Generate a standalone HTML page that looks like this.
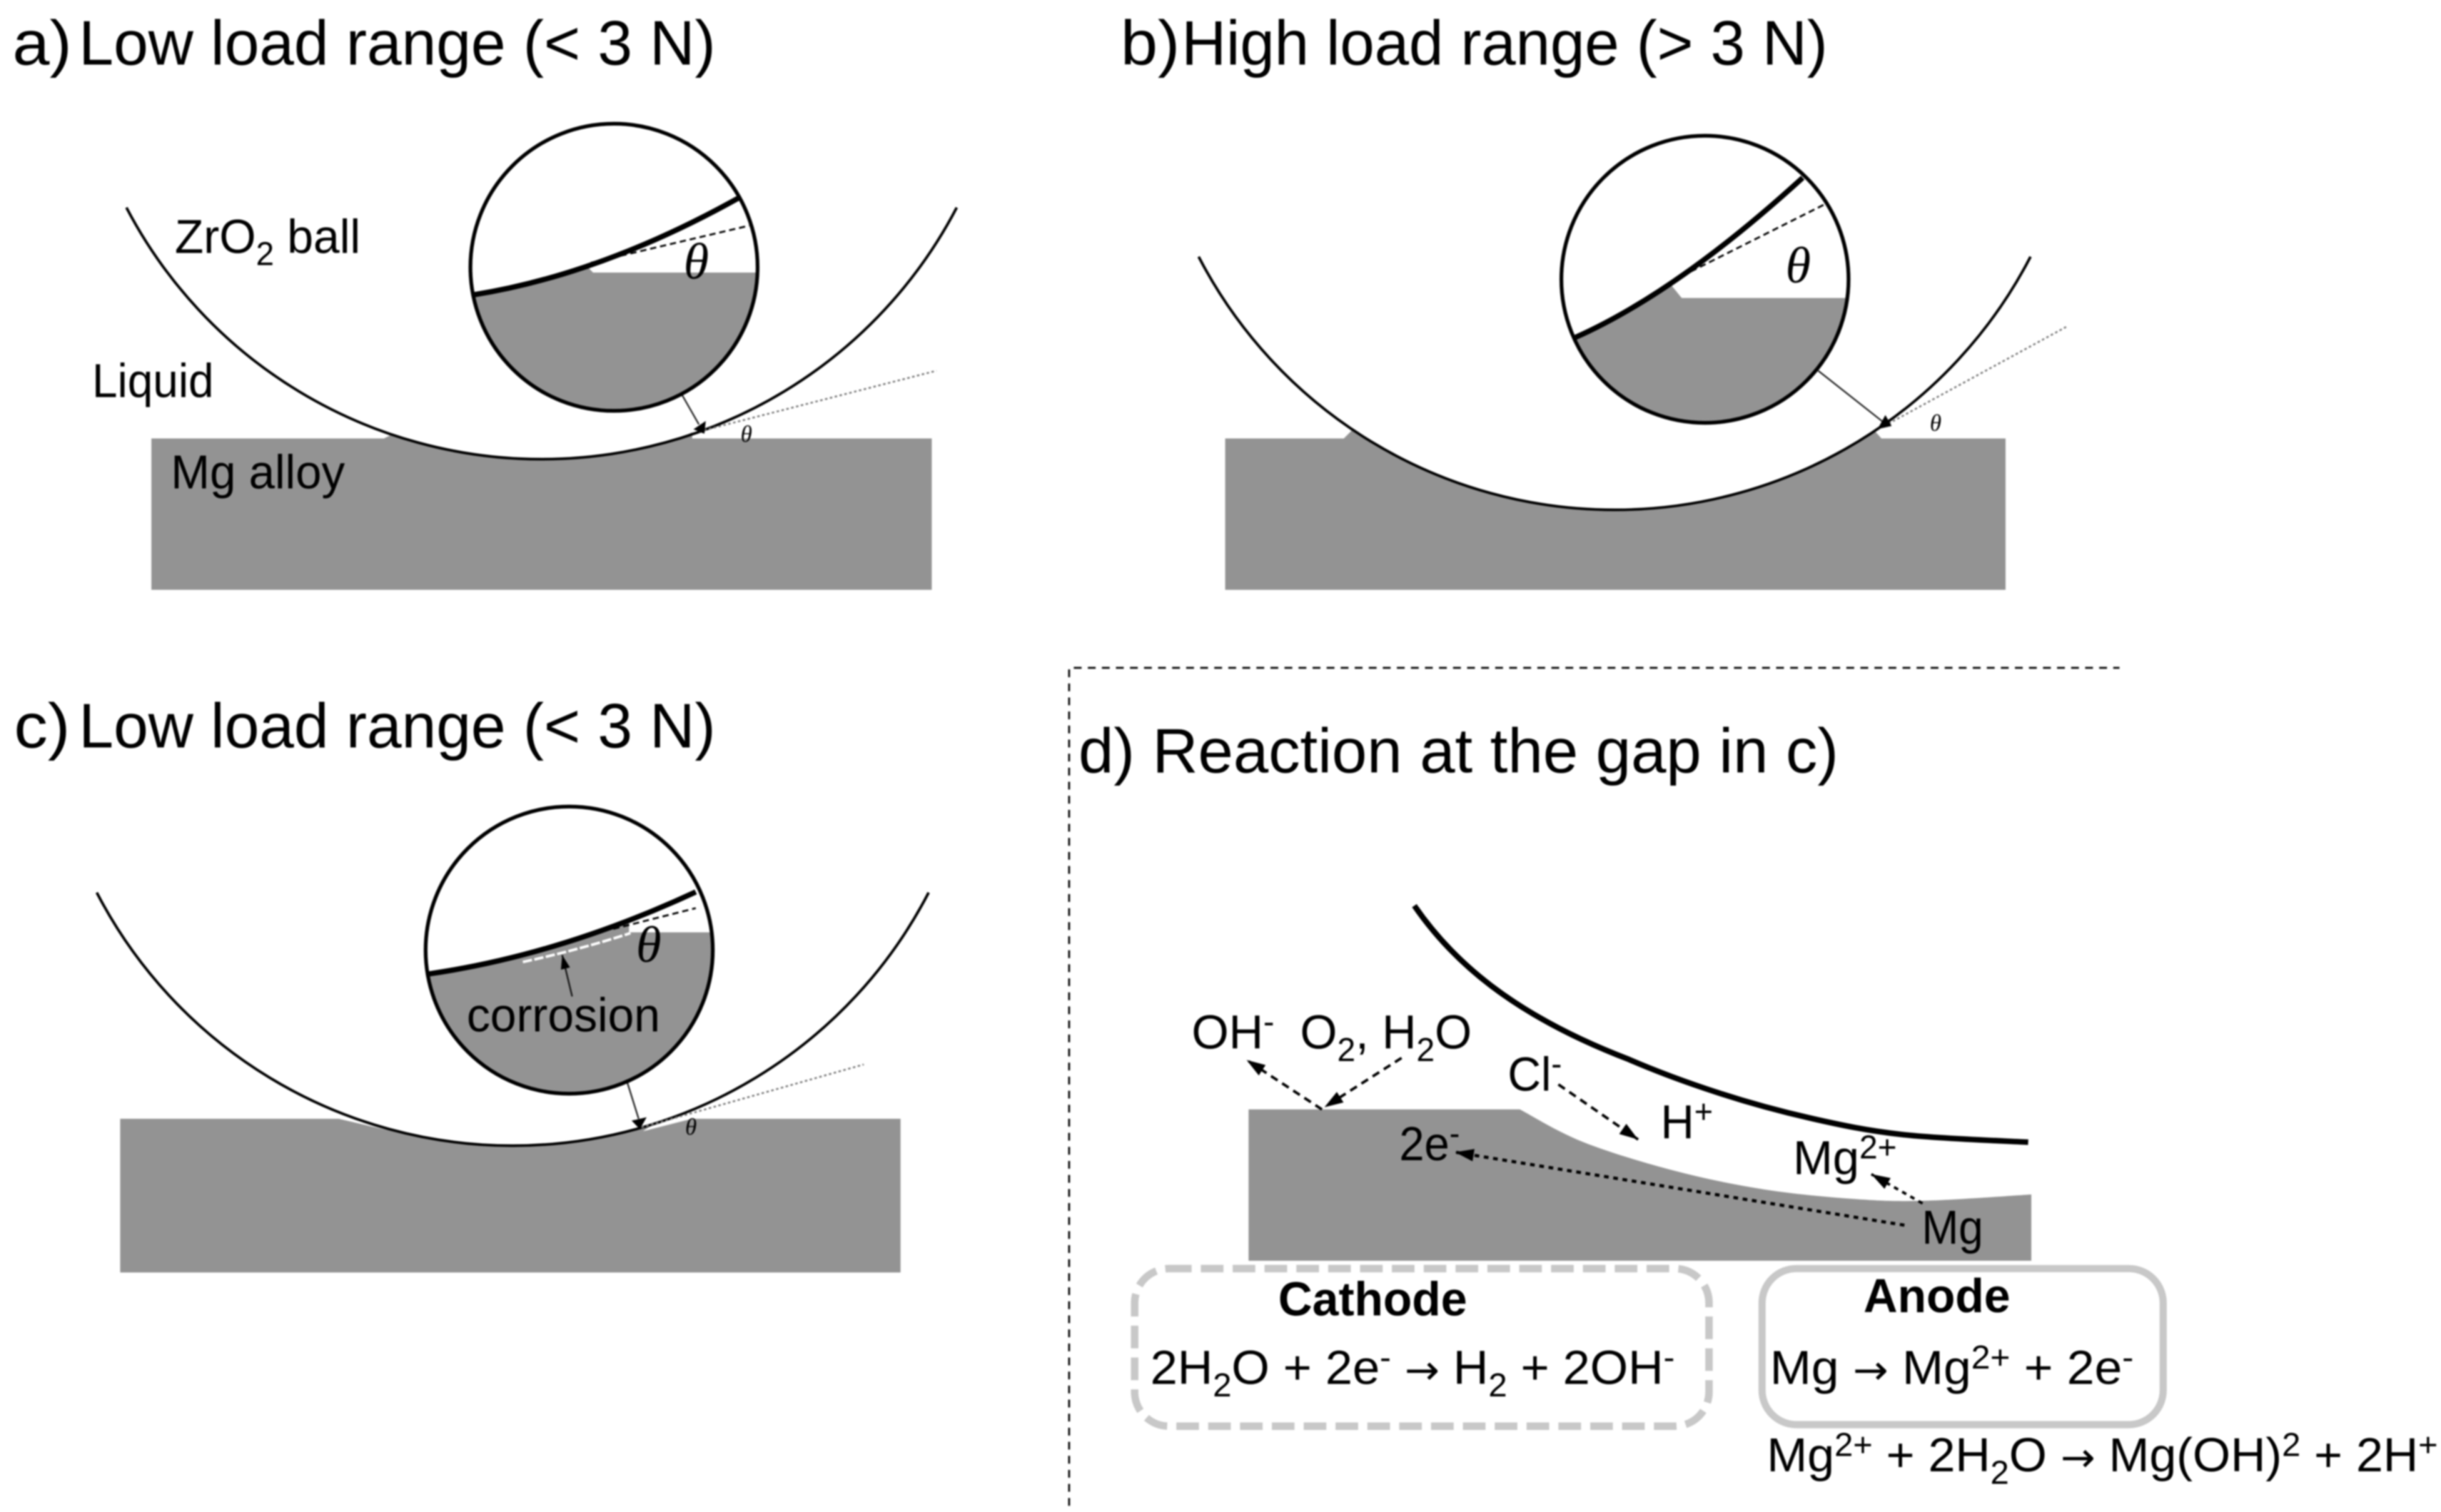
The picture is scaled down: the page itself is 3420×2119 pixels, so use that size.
<!DOCTYPE html>
<html><head><meta charset="utf-8"><style>
html,body{margin:0;padding:0;background:#fff}
svg{display:block;filter:blur(1px)}
text{font-family:"Liberation Sans",sans-serif;fill:#000}
.t{font-size:40.5px}.l{font-size:30.5px}
.s{font-size:21px}
.ar{font-family:"DejaVu Sans",sans-serif;font-size:26px}
.th{font-family:"Liberation Serif",serif;font-style:italic}
</style></head><body>
<svg width="3420" height="2119" viewBox="0 0 1564 969" preserveAspectRatio="none" xmlns="http://www.w3.org/2000/svg">
<defs>
<marker id="a" markerUnits="userSpaceOnUse" markerWidth="14" markerHeight="10" refX="12" refY="4" orient="auto"><path d="M0,0L12,4L0,8Z" fill="#000"/></marker>
<marker id="b" markerUnits="userSpaceOnUse" markerWidth="11" markerHeight="8" refX="9" refY="3" orient="auto"><path d="M0,0L9,3L0,6Z" fill="#000"/></marker>
<clipPath id="ca"><circle cx="393.4" cy="171.3" r="92"/></clipPath>
<clipPath id="cb"><circle cx="1092.4" cy="179" r="92"/></clipPath>
<clipPath id="cc"><circle cx="364.7" cy="608.9" r="92"/></clipPath>
</defs>
<rect width="1564" height="969" fill="#fff"/>

<!-- a -->
<text x="8" y="41.5" class="t" textLength="38" lengthAdjust="spacingAndGlyphs">a)</text>
<text x="50.5" y="41.5" class="t" textLength="408" lengthAdjust="spacingAndGlyphs">Low load range (&lt; 3 N)</text>
<rect x="97" y="281" width="500" height="97" fill="#939393"/>
<path d="M81,133A300,300 0 0 0 613,133" fill="#fff"/>
<path d="M246,281L252,278L258,281ZM436,281L443.5,277L443.5,281Z" fill="#939393"/>
<path d="M81,133A300,300 0 0 0 613,133" fill="none" stroke="#000" stroke-width="1.7"/>
<line x1="448" y1="276.5" x2="600" y2="237.6" stroke="#777" stroke-width="1.1" stroke-dasharray="1.6 1.6"/>
<line x1="436.5" y1="252.2" x2="447.8" y2="272" stroke="#222" stroke-width="1"/>
<path d="M452.2,269.8L451.3,278L444.3,275.1Z" fill="#000"/>
<circle cx="393.4" cy="171.3" r="92" fill="#fff"/>
<g clip-path="url(#ca)">
<path d="M295,190L303,189Q385,176 473,127L495,120V270H295Z" fill="#939393"/>
<path d="M376.5,171L380,174.7H495V100H376.5Z" fill="#fff"/>
<line x1="378.6" y1="168.4" x2="480" y2="144.6" stroke="#000" stroke-width="1.2" stroke-dasharray="4 2.5"/>
<path d="M303,189Q385,176 473,127" fill="none" stroke="#000" stroke-width="3.4"/>
</g>
<circle cx="393.4" cy="171.3" r="92" fill="none" stroke="#000" stroke-width="2.4"/>
<text x="438" y="178.5" class="th" style="font-size:33px">θ</text>
<text x="474.5" y="283" class="th" style="font-size:15px">θ</text>
<text x="112" y="162" class="l" textLength="119" lengthAdjust="spacingAndGlyphs">ZrO<tspan dy="8" class="s">2</tspan><tspan dy="-8"> ball</tspan></text>
<text x="59" y="254.4" class="l" textLength="78" lengthAdjust="spacingAndGlyphs">Liquid</text>
<text x="109.5" y="313" class="l" textLength="111.5" lengthAdjust="spacingAndGlyphs">Mg alloy</text>

<!-- b -->
<text x="718" y="41.5" class="t" textLength="38" lengthAdjust="spacingAndGlyphs">b)</text>
<text x="757" y="41.5" class="t" textLength="414" lengthAdjust="spacingAndGlyphs">High load range (&gt; 3 N)</text>
<path d="M785,378V281H861L866,276H1201L1205.5,281H1285V378Z" fill="#939393"/>
<path d="M768,164.5A300,300 0 0 0 1301,164.5" fill="#fff" stroke="#000" stroke-width="1.7"/>
<line x1="1210" y1="271.5" x2="1324" y2="209.4" stroke="#777" stroke-width="1.1" stroke-dasharray="1.6 1.6"/>
<line x1="1165" y1="237.6" x2="1206" y2="270" stroke="#222" stroke-width="1"/>
<path d="M1203,275L1208,266L1212,273Z" fill="#000"/>
<circle cx="1092.4" cy="179" r="92" fill="#fff"/>
<g clip-path="url(#cb)">
<path d="M995,225L1009.5,216.2Q1075,187 1155,113.9L1190,100V280H995Z" fill="#939393"/>
<path d="M1071,183L1077.5,191H1195V90H1071Z" fill="#fff"/>
<line x1="1071.8" y1="179.8" x2="1169.6" y2="130.7" stroke="#000" stroke-width="1.2" stroke-dasharray="4 2.5"/>
<path d="M1009.5,216.2Q1075,187 1155,113.9" fill="none" stroke="#000" stroke-width="3.4"/>
</g>
<circle cx="1092.4" cy="179" r="92" fill="none" stroke="#000" stroke-width="2.4"/>
<text x="1144" y="181" class="th" style="font-size:33px">θ</text>
<text x="1236.5" y="276" class="th" style="font-size:15px">θ</text>

<!-- c -->
<text x="9" y="479" class="t" textLength="36" lengthAdjust="spacingAndGlyphs">c)</text>
<text x="50.5" y="479" class="t" textLength="408" lengthAdjust="spacingAndGlyphs">Low load range (&lt; 3 N)</text>
<rect x="77" y="717" width="500" height="98.5" fill="#939393"/>
<path d="M62,572A300,300 0 0 0 595,572" fill="#fff"/>
<path d="M412,725L444,716.8L425,716ZM217,717L229,716L258,725L258,726.5Z" fill="#fff"/>
<path d="M62,572A300,300 0 0 0 595,572" fill="none" stroke="#000" stroke-width="1.7"/>
<line x1="411" y1="722.5" x2="553.4" y2="682.2" stroke="#777" stroke-width="1.1" stroke-dasharray="1.6 1.6"/>
<line x1="401.6" y1="692.7" x2="409.2" y2="717" stroke="#222" stroke-width="1"/>
<path d="M404.7,718.2L414.3,716L410,723.7Z" fill="#000"/>
<circle cx="364.7" cy="608.9" r="92" fill="#fff"/>
<g clip-path="url(#cc)">
<path d="M265,626L274.4,624.2Q359,612 445.8,571.6L465,560V710H265Z" fill="#939393"/>
<path d="M403,597.5H465V550H403Z" fill="#fff"/>
<line x1="393" y1="595.3" x2="445.8" y2="582" stroke="#000" stroke-width="1.2" stroke-dasharray="4 2.5"/>
<path d="M335,616.5Q370,609 404,598" fill="none" stroke="#fff" stroke-width="1.7" stroke-dasharray="6 1.5"/>
<path d="M274.4,624.2Q359,612 445.8,571.6" fill="none" stroke="#000" stroke-width="3.4"/>
</g>
<circle cx="364.7" cy="608.9" r="92" fill="none" stroke="#000" stroke-width="2.4"/>
<line x1="366.6" y1="638.6" x2="360.2" y2="612" stroke="#111" stroke-width="1" marker-end="url(#b)"/>
<text x="407.5" y="616.5" class="th" style="font-size:33px">θ</text>
<text x="299" y="661" class="l" textLength="124" lengthAdjust="spacingAndGlyphs">corrosion</text>
<text x="439" y="727" class="th" style="font-size:15px">θ</text>

<!-- d frame -->
<path d="M685,965V428H1358" fill="none" stroke="#000" stroke-width="1.2" stroke-dasharray="5 4"/>
<text x="691" y="495" class="t" textLength="487" lengthAdjust="spacingAndGlyphs">d) Reaction at the gap in c)</text>

<path d="M800,808V711H973.8C980.6,714.5 998.1,725.5 1014.6,732C1031.1,738.5 1053.5,745.2 1072.9,750.3C1092.3,755.4 1111.8,759.4 1131.2,762.4C1150.6,765.4 1172.5,767.3 1189.5,768.5C1206.5,769.7 1214.7,770 1233.2,769.5C1251.7,769 1289.2,766.3 1301.5,765.5V808Z" fill="#939393"/>
<path d="M906.2,580.4C930,615 968,650 1043.8,679C1063.2,687.4 1082.6,694.4 1102,700.7C1121.4,707 1141,712.3 1160.4,716.7C1179.8,721.1 1195.8,724.5 1218.7,727.1C1241.6,729.7 1284.4,731.2 1299.5,732" fill="none" stroke="#000" stroke-width="3.6"/>

<g stroke="#000" stroke-width="1.7" fill="none">
<line x1="847" y1="711" x2="798.7" y2="679.3" stroke-dasharray="5 3.5" marker-end="url(#a)"/>
<line x1="898" y1="678" x2="848.6" y2="709.6" stroke-dasharray="5 3.5" marker-end="url(#a)"/>
<line x1="998.5" y1="695" x2="1049.6" y2="730.3" stroke-dasharray="5 3.5" marker-end="url(#a)"/>
<line x1="1220.2" y1="785.2" x2="932.3" y2="738.4" stroke-dasharray="3 3" stroke-width="2" marker-end="url(#a)"/>
<line x1="1231.8" y1="771.2" x2="1199" y2="752.5" stroke-dasharray="3 3" marker-end="url(#a)"/>
</g>

<text x="763.5" y="672" class="l" textLength="53" lengthAdjust="spacingAndGlyphs">OH<tspan dy="-10" class="s">-</tspan></text>
<text x="833" y="672" class="l" textLength="110" lengthAdjust="spacingAndGlyphs">O<tspan dy="8" class="s">2</tspan><tspan dy="-8">, H</tspan><tspan dy="8" class="s">2</tspan><tspan dy="-8">O</tspan></text>
<text x="966" y="699" class="l" textLength="34.7" lengthAdjust="spacingAndGlyphs">Cl<tspan dy="-10" class="s">-</tspan></text>
<text x="1064" y="729.5" class="l" textLength="33.5" lengthAdjust="spacingAndGlyphs">H<tspan dy="-10" class="s">+</tspan></text>
<text x="896.5" y="743.6" class="l" textLength="38.8" lengthAdjust="spacingAndGlyphs">2e<tspan dy="-10" class="s">-</tspan></text>
<text x="1148.8" y="752.5" class="l" textLength="66.5" lengthAdjust="spacingAndGlyphs">Mg<tspan dy="-10" class="s">2+</tspan></text>
<text x="1231.3" y="797" class="l" textLength="39.4" lengthAdjust="spacingAndGlyphs">Mg</text>

<rect x="727" y="813" width="368" height="101" rx="22" fill="none" stroke="#c8c8c8" stroke-width="4.8" stroke-dasharray="14.5 5.9"/>
<rect x="1129" y="813" width="257" height="100" rx="22" fill="none" stroke="#c8c8c8" stroke-width="4.6"/>
<text x="819" y="843" class="l" style="font-weight:bold" textLength="121" lengthAdjust="spacingAndGlyphs">Cathode</text>
<text x="1194" y="841" class="l" style="font-weight:bold" textLength="94" lengthAdjust="spacingAndGlyphs">Anode</text>
<text x="737" y="887" class="l" textLength="336" lengthAdjust="spacingAndGlyphs">2H<tspan dy="8" class="s">2</tspan><tspan dy="-8">O + 2e</tspan><tspan dy="-10" class="s">-</tspan><tspan dy="10"> </tspan><tspan class="ar">→</tspan><tspan> H</tspan><tspan dy="8" class="s">2</tspan><tspan dy="-8"> + 2OH</tspan><tspan dy="-10" class="s">-</tspan></text>
<text x="1134" y="887" class="l" textLength="233" lengthAdjust="spacingAndGlyphs">Mg <tspan class="ar">→</tspan> Mg<tspan dy="-10" class="s">2+</tspan><tspan dy="10"> + 2e</tspan><tspan dy="-10" class="s">-</tspan></text>
<text x="1132" y="943" class="l" textLength="430" lengthAdjust="spacingAndGlyphs">Mg<tspan dy="-10" class="s">2+</tspan><tspan dy="10"> + 2H</tspan><tspan dy="8" class="s">2</tspan><tspan dy="-8">O </tspan><tspan class="ar">→</tspan><tspan> Mg(OH)</tspan><tspan dy="-10" class="s">2</tspan><tspan dy="10"> + 2H</tspan><tspan dy="-10" class="s">+</tspan></text>
</svg>
</body></html>
